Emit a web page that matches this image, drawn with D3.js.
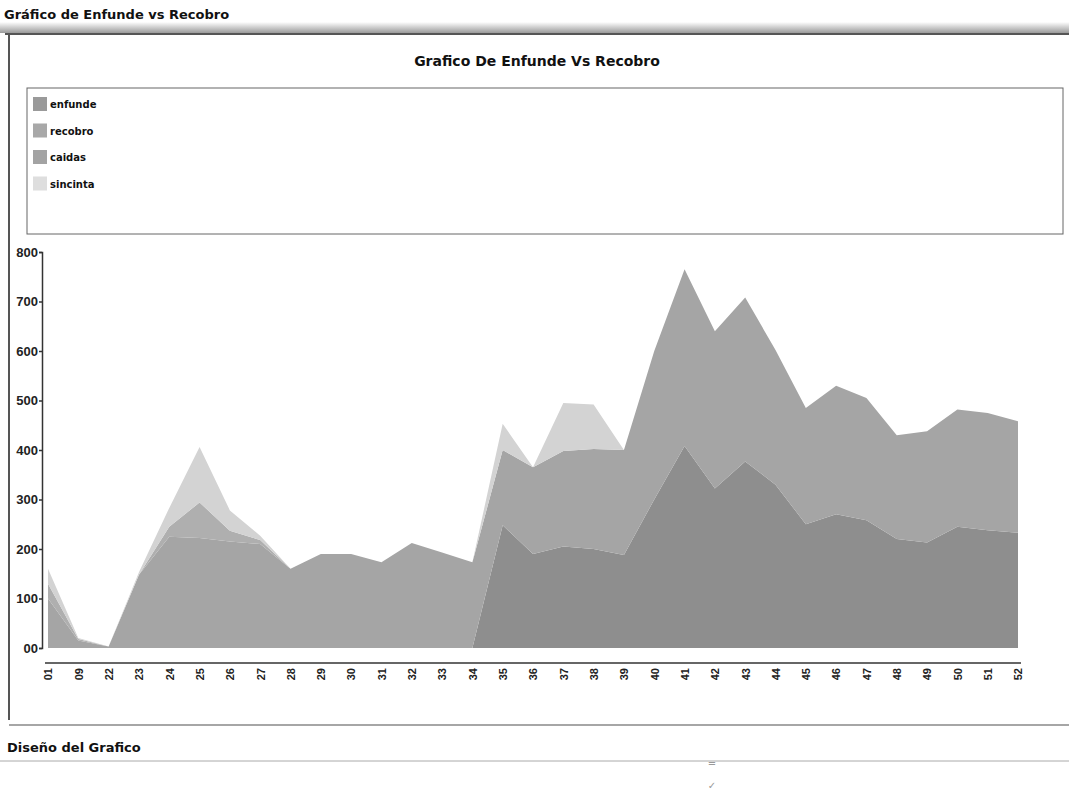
<!DOCTYPE html>
<html>
<head>
<meta charset="utf-8">
<script src="https://cdn.jsdelivr.net/npm/d3@7"></script>
<style>
  body { margin: 0; background: #fff; }
  svg { display: block; font-family: "DejaVu Sans", "Liberation Sans", sans-serif; }
  .yaxis text { font-size: 13px; font-weight: bold; fill: #222; }
  .xaxis text { font-size: 11px; font-weight: bold; fill: #222; }
  .yaxis path, .yaxis line, .xaxis path { stroke: #333; stroke-width: 1.5; }
</style>
</head>
<body>
<div id="the_chart"></div>
<script>
// weeks shown on the x axis
var weeks = ["01", "09", "22", "23", "24", "25", "26", "27", "28", "29", "30", "31", "32", "33", "34",
    "35", "36", "37", "38", "39", "40", "41", "42", "43", "44", "45", "46", "47", "48", "49", "50", "51", "52"];

// stacked series
var enfunde = [0, 0, 0, 0, 0, 0, 0, 0, 0, 0, 0, 0, 0, 0, 0,
    248, 190, 205, 200, 188, 300, 408, 322, 377, 330, 250, 270, 258, 220, 213, 245, 238, 233];
var recobro = [100, 15, 3, 148, 225, 222, 215, 210, 160, 190, 190, 173, 212, 193, 173,
    152, 175, 193, 202, 212, 300, 357, 318, 331, 272, 235, 260, 247, 210, 225, 237, 237, 225];
var caidas = [30, 3, 0, 0, 20, 72, 22, 8, 0, 0, 0, 0, 0, 0, 0,
    0, 0, 0, 0, 0, 0, 0, 0, 0, 0, 0, 0, 0, 0, 0, 0, 0, 0];
var sincinta = [30, 2, 0, 5, 38, 112, 41, 9, 0, 0, 0, 0, 0, 0, 0,
    53, 0, 97, 90, 0, 0, 0, 0, 0, 0, 0, 0, 0, 0, 0, 0, 0, 0];

var seriesNames = ["enfunde", "recobro", "caidas", "sincinta"];
var seriesColors = ["#8e8e8e", "#a5a5a5", "#afafaf", "#d3d3d3"];
var legendColors = ["#9a9a9a", "#a8a8a8", "#a3a3a3", "#dedede"];

var yTicks = [0, 100, 200, 300, 400, 500, 600, 700, 800];
var yTickLabels = ["00", "100", "200", "300", "400", "500", "600", "700", "800"];

var w = 1069, h = 804;

var svg = d3.select("#the_chart")
    .append("svg")
    .attr("width", w)
    .attr("height", h);

// window header
var grad = svg.append("defs").append("linearGradient")
    .attr("id", "hdr").attr("x1", 0).attr("x2", 0).attr("y1", 0).attr("y2", 1);
grad.append("stop").attr("offset", "0%").attr("stop-color", "#ffffff");
grad.append("stop").attr("offset", "100%").attr("stop-color", "#9a9a9a");
svg.append("rect").attr("x", 0).attr("y", 22).attr("width", w).attr("height", 11).attr("fill", "url(#hdr)");
svg.append("line").attr("x1", 5).attr("x2", w).attr("y1", 34).attr("y2", 34)
    .attr("stroke", "#555").attr("stroke-width", 2);
svg.append("text").attr("x", 4).attr("y", 19)
    .style("font-size", "13px").style("font-weight", "bold").attr("fill", "#111")
    .text("Gráfico de Enfunde vs Recobro");

// left frame
svg.append("line").attr("x1", 9).attr("x2", 9).attr("y1", 35).attr("y2", 720)
    .attr("stroke", "#555").attr("stroke-width", 2);

// chart title
svg.append("text").attr("x", 537).attr("y", 66).attr("text-anchor", "middle")
    .style("font-size", "14px").style("font-weight", "bold").attr("fill", "#111")
    .text("Grafico De Enfunde Vs Recobro");

// legend box
svg.append("rect").attr("x", 27).attr("y", 88).attr("width", 1036).attr("height", 146)
    .attr("fill", "none").attr("stroke", "#666").attr("stroke-width", 1);
var leg = svg.selectAll(".leg")
    .data(seriesNames)
    .enter().append("g")
    .attr("class", "leg")
    .attr("transform", (d, i) => "translate(33," + (97 + i * 26.5) + ")");
leg.append("rect").attr("width", 14).attr("height", 14)
    .attr("fill", (d, i) => legendColors[i]);
leg.append("text").attr("x", 17).attr("y", 11)
    .style("font-size", "10px").style("font-weight", "bold").attr("fill", "#111")
    .text(d => d);

// scales
var x = d3.scalePoint().domain(weeks).range([48, 1018]);
var y = d3.scaleLinear().domain([0, 800]).range([648, 252]);

var table = weeks.map((wk, i) => ({
    week: wk, enfunde: enfunde[i], recobro: recobro[i], caidas: caidas[i], sincinta: sincinta[i]
}));
var stacked = d3.stack().keys(seriesNames)(table);

var area = d3.area()
    .x(d => x(d.data.week))
    .y0(d => y(d[0]))
    .y1(d => y(d[1]));

svg.selectAll(".layer")
    .data(stacked)
    .enter().append("path")
    .attr("class", "layer")
    .attr("d", area)
    .attr("fill", (d, i) => seriesColors[i]);

// y axis
var yaxis = d3.axisLeft(y)
    .tickValues(yTicks)
    .tickFormat((d, i) => yTickLabels[i])
    .tickSize(3)
    .tickPadding(1);
svg.append("g")
    .attr("class", "yaxis")
    .attr("transform", "translate(42,0)")
    .call(yaxis);

// x axis
var xaxis = d3.axisBottom(x).tickSize(0).tickPadding(0);
var gx = svg.append("g")
    .attr("class", "xaxis")
    .attr("transform", "translate(0,663)")
    .call(xaxis);
gx.select(".domain").attr("d", "M45,0H1021");
gx.selectAll("text")
    .attr("transform", "rotate(-90)")
    .attr("text-anchor", "end")
    .attr("dy", "0.35em")
    .attr("x", -5)
    .attr("y", 0);

// bottom panel
svg.append("line").attr("x1", 9).attr("x2", w).attr("y1", 725).attr("y2", 725)
    .attr("stroke", "#888").attr("stroke-width", 1.5);
svg.append("text").attr("x", 7).attr("y", 752)
    .style("font-size", "13px").style("font-weight", "bold").attr("fill", "#111")
    .text("Diseño del Grafico");
svg.append("line").attr("x1", 0).attr("x2", w).attr("y1", 761).attr("y2", 761)
    .attr("stroke", "#aaa").attr("stroke-width", 1);
svg.append("text").attr("x", 712).attr("y", 767).attr("text-anchor", "middle")
    .style("font-size", "10px").attr("fill", "#999").text("=");
svg.append("text").attr("x", 712).attr("y", 789).attr("text-anchor", "middle")
    .style("font-size", "10px").attr("fill", "#999").text("✓");
</script>
</body>
</html>
